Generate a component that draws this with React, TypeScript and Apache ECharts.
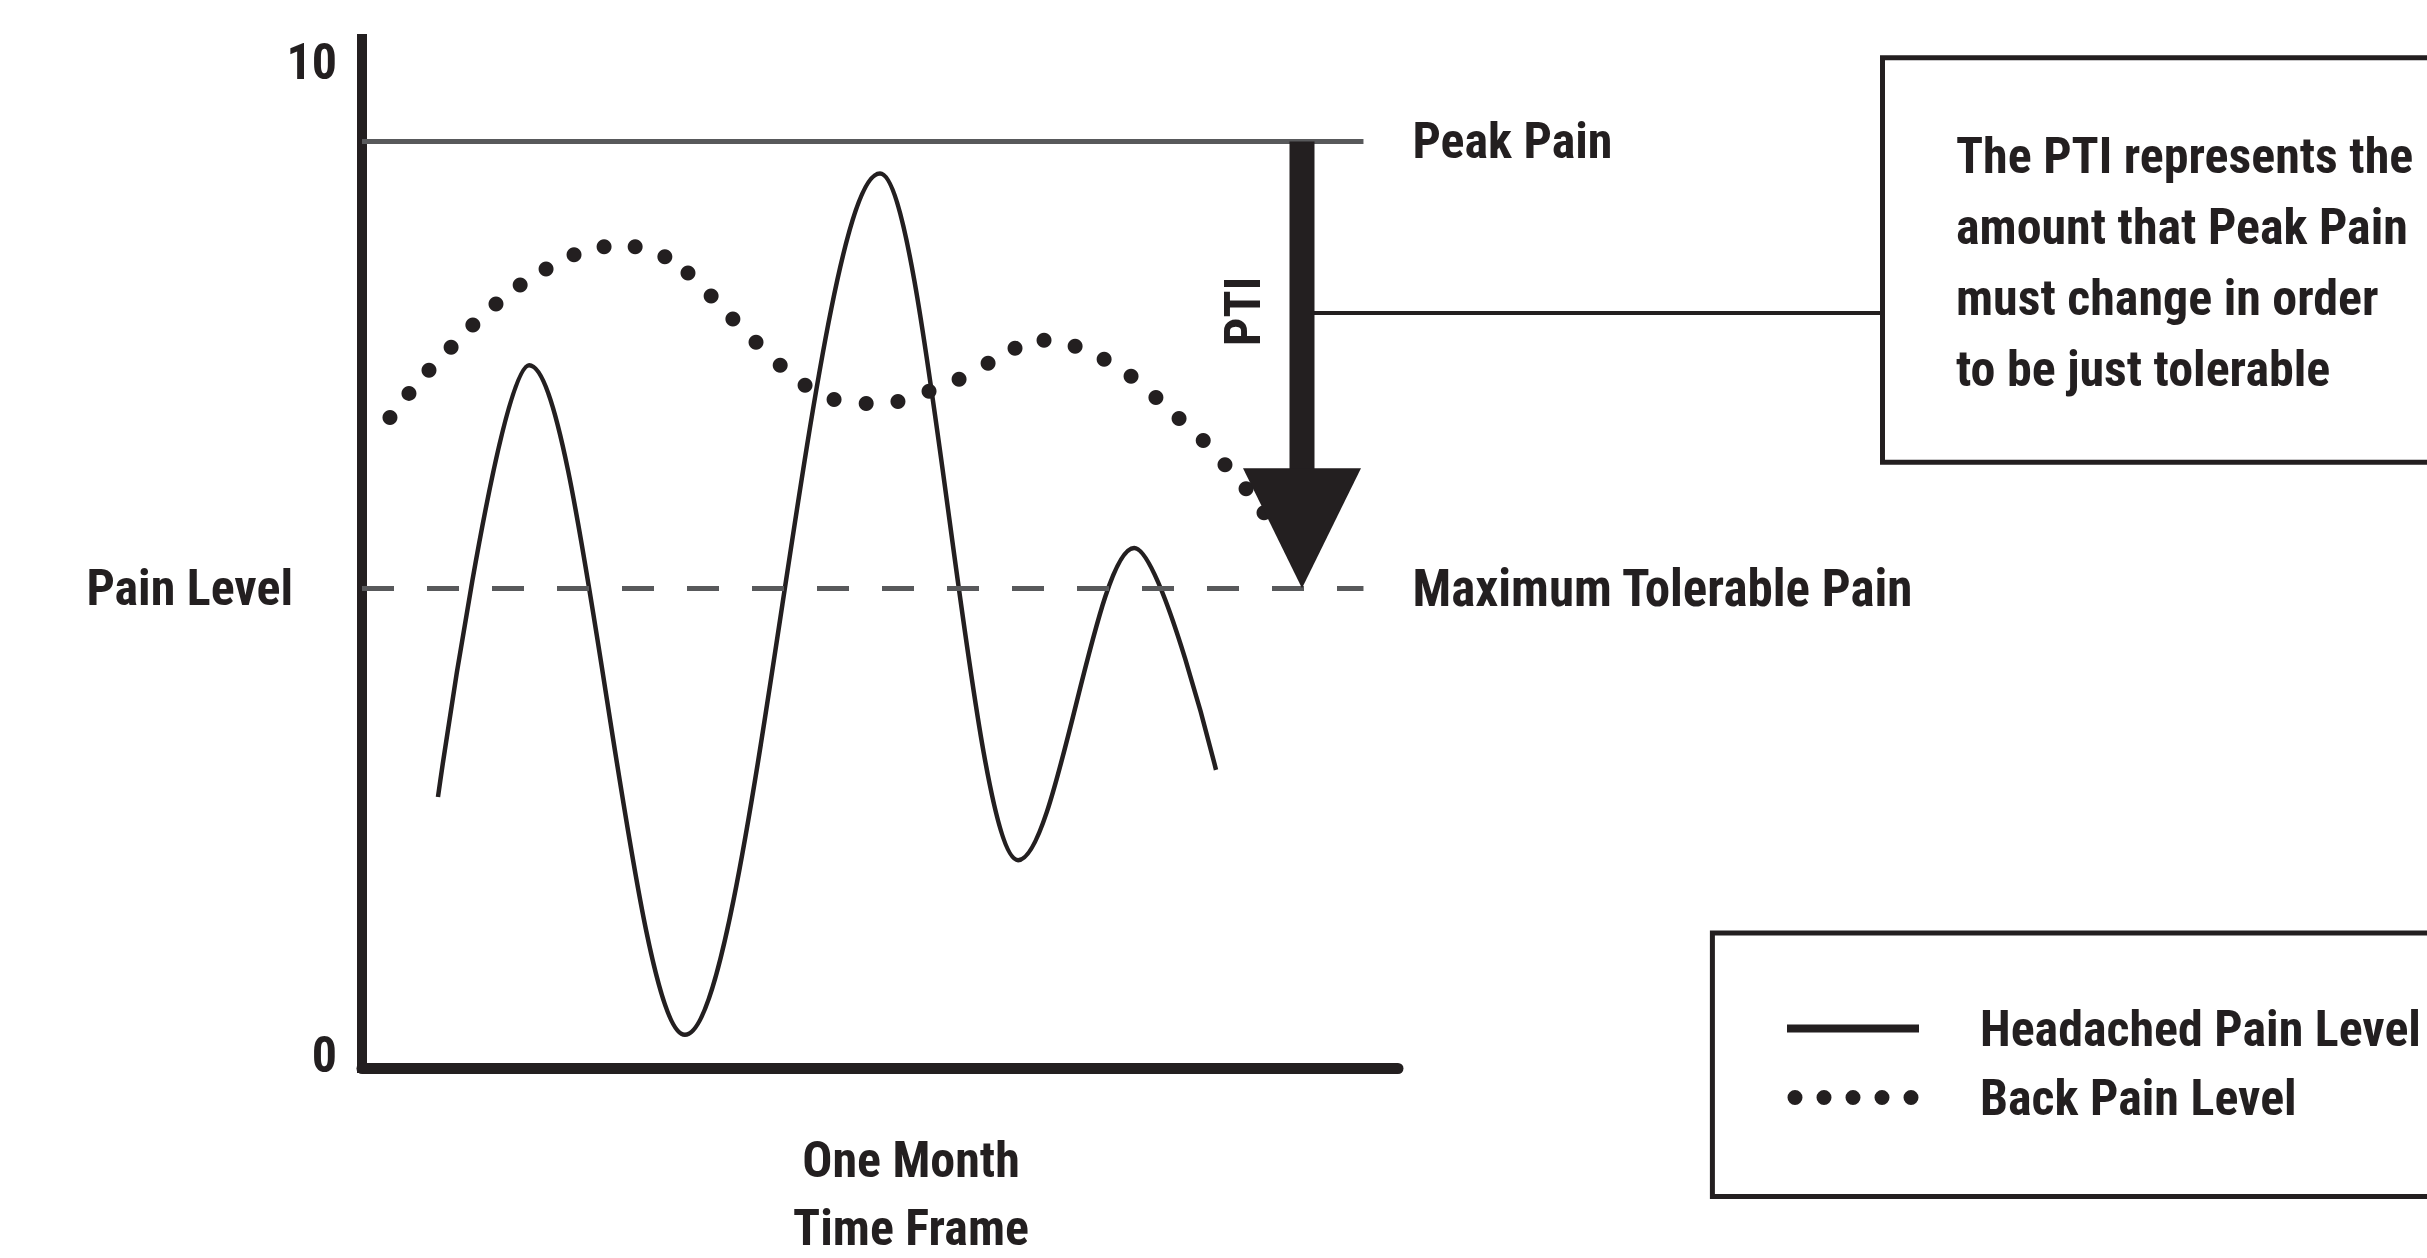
import React, { useEffect, useRef } from 'react';
import * as echarts from 'echarts';

const FONT = "'Roboto Condensed', 'Open Sans Condensed', 'DejaVu Sans Condensed', sans-serif";
const FS = 50;
const INK = '#231f20';
const GREY = '#58595b';

const xRange = [0, 30];
const yRange = [0, 10.25];
const yTickValues = [0, 10];
const seriesNames = ['Headached Pain Level', 'Back Pain Level'];

// Headache pain: start, turning points, end
const headacheX = [2.2, 4.84, 9.35, 15.0, 19.0, 22.36, 24.73];
const headacheY = [2.7, 7.0, 0.33, 8.91, 2.07, 5.18, 2.97];

// Back pain: dot positions
const backX = [0.81, 1.36, 1.94, 2.58, 3.21, 3.88, 4.58, 5.33, 6.14, 7.01, 7.91, 8.77, 9.44, 10.11, 10.74, 11.41, 12.11, 12.83, 13.67, 14.6, 15.52, 16.42, 17.29, 18.13, 18.91, 19.75, 20.65, 21.49, 22.27, 22.99, 23.66, 24.36, 24.99, 25.6, 26.12];
const backY = [6.48, 6.72, 6.95, 7.18, 7.4, 7.61, 7.8, 7.96, 8.1, 8.18, 8.18, 8.08, 7.92, 7.69, 7.46, 7.23, 7.0, 6.8, 6.66, 6.62, 6.64, 6.74, 6.86, 7.02, 7.17, 7.25, 7.19, 7.06, 6.89, 6.68, 6.47, 6.25, 6.01, 5.77, 5.53];

const peakPain = 9.23;
const maxTolerable = 4.78;
const refLineEnd = 29;
const ptiX = 27.22;
const refLabels = ['Peak Pain', 'Maximum Tolerable Pain'];

const xAxisName = 'One Month\nTime Frame';
const yAxisName = 'Pain Level';
const ptiLabel = 'PTI';
const noteLines = [
  'The PTI represents the',
  'amount that Peak Pain',
  'must change in order',
  'to be just tolerable',
];

const zip = (xs: number[], ys: number[]) => xs.map((x, i) => [x, ys[i]]);

const dotsIcon = (() => {
  let d = 'path://';
  for (let k = 0; k < 5; k++) {
    const cx = 8 + 29 * k;
    d += `M${cx - 7.5},7.5a7.5,7.5 0 1,0 15,0a7.5,7.5 0 1,0 -15,0Z`;
  }
  return d;
})();

const boldText = { fontSize: FS, fontWeight: 'bold' as const, fontFamily: FONT, color: INK };
const gText = { fill: INK, fontSize: FS, fontWeight: 'bold', fontFamily: FONT };

function buildOption(): any {
  return {
    animation: false,
    backgroundColor: '#ffffff',
    textStyle: { fontFamily: FONT },
    grid: { left: 362, top: 39, width: 1036, height: 1029, containLabel: false, outerBoundsMode: 'none' },
    xAxis: {
      type: 'value',
      min: xRange[0],
      max: xRange[1],
      axisLine: { show: true, lineStyle: { color: INK, width: 11 } },
      axisTick: { show: false },
      axisLabel: { show: false },
      splitLine: { show: false },
      name: xAxisName,
      nameLocation: 'middle',
      nameGap: 58,
      nameTextStyle: { ...boldText, lineHeight: 68, padding: [0, 0, 0, 62] },
    },
    yAxis: {
      type: 'value',
      min: yRange[0],
      max: yRange[1],
      axisLine: { show: true, lineStyle: { color: INK, width: 10, cap: 'square' } },
      axisTick: { show: false },
      splitLine: { show: false },
      axisLabel: {
        customValues: yTickValues,
        margin: 25,
        formatter: (v: number) => (v === 0 ? `{zero|${v}}` : `{num|${v}}`),
        rich: {
          zero: { ...boldText, padding: [0, 0, 26, 0] },
          num: { ...boldText, padding: [0, 0, 4, 0] },
        },
      },
    },
    legend: {
      orient: 'vertical',
      left: 1787,
      top: 994,
      padding: 0,
      itemGap: 0,
      itemWidth: 132,
      itemHeight: 15,
      selectedMode: false,
      itemStyle: { borderWidth: 0 },
      textStyle: { ...boldText, lineHeight: 69, padding: [0, 0, 0, 56] },
      data: [
        { name: seriesNames[0], icon: 'path://M0,0H132V8H0Z', itemStyle: { color: INK, borderWidth: 0 } },
        { name: seriesNames[1], icon: dotsIcon, itemStyle: { color: INK, borderWidth: 0 } },
      ],
    },
    graphic: [
      {
        type: 'text',
        x: 293,
        y: 588,
        style: { ...gText, text: yAxisName, align: 'right', verticalAlign: 'middle' },
      },
      {
        type: 'rect',
        shape: { x: 1882.5, y: 57.7, width: 700, height: 404.5 },
        style: { fill: 'none', stroke: INK, lineWidth: 5 },
      },
      {
        type: 'text',
        x: 1956,
        y: 120.5,
        style: { ...gText, text: noteLines.join('\n'), lineHeight: 71, verticalAlign: 'top', align: 'left' },
      },
      {
        type: 'line',
        shape: { x1: 1302, y1: 313, x2: 1882, y2: 313 },
        style: { stroke: INK, lineWidth: 4 },
      },
      {
        type: 'rect',
        shape: { x: 1712.4, y: 933, width: 800, height: 263.5 },
        style: { fill: 'none', stroke: INK, lineWidth: 5 },
      },
    ],
    series: [
      {
        name: seriesNames[0],
        type: 'line',
        data: zip(headacheX, headacheY),
        smooth: 0.33,
        smoothMonotone: 'x',
        showSymbol: false,
        symbol: 'none',
        lineStyle: { color: INK, width: 4.5 },
        itemStyle: { color: INK },
        z: 3,
        markLine: {
          silent: true,
          animation: false,
          symbol: ['none', 'none'],
          label: { show: true, position: 'end', distance: 49, ...boldText },
          data: [
            [
              { coord: [xRange[0], peakPain], lineStyle: { color: GREY, width: 5, type: 'solid' }, label: { formatter: refLabels[0] } },
              { coord: [refLineEnd, peakPain] },
            ],
            [
              { coord: [xRange[0], maxTolerable], lineStyle: { color: GREY, width: 5, type: [32, 33] }, label: { formatter: refLabels[1], fontSize: 51 } },
              { coord: [refLineEnd, maxTolerable] },
            ],
          ],
        },
      },
      {
        name: seriesNames[1],
        type: 'line',
        data: zip(backX, backY),
        showSymbol: true,
        symbol: 'circle',
        symbolSize: 15,
        lineStyle: { width: 0, opacity: 0 },
        itemStyle: { color: INK, borderWidth: 0 },
        z: 3,
      },
      {
        name: ptiLabel,
        type: 'custom',
        silent: true,
        z: 5,
        data: [[ptiX, peakPain, maxTolerable]],
        encode: { x: 0, y: [1, 2] },
        renderItem: (_params: any, api: any) => {
          const top = api.coord([api.value(0), api.value(1)]);
          const tip = api.coord([api.value(0), api.value(2)]);
          const headH = 120;
          const headHalf = 59;
          const shaft = 25;
          return {
            type: 'group',
            children: [
              {
                type: 'rect',
                shape: { x: top[0] - shaft / 2, y: top[1], width: shaft, height: tip[1] - headH - top[1] + 2 },
                style: { fill: INK },
              },
              {
                type: 'polygon',
                shape: {
                  points: [
                    [top[0] - headHalf, tip[1] - headH],
                    [top[0] + headHalf, tip[1] - headH],
                    [top[0], tip[1]],
                  ],
                },
                style: { fill: INK },
              },
              {
                type: 'text',
                x: top[0] - 59,
                y: top[1] + 170,
                rotation: Math.PI / 2,
                style: { ...gText, text: ptiLabel, align: 'center', verticalAlign: 'middle' },
              },
            ],
          };
        },
      },
    ],
  };
}

export default function App() {
  const ref = useRef<HTMLDivElement>(null);
  useEffect(() => {
    if (!ref.current) return;
    const chart = echarts.init(ref.current, null, { renderer: 'svg' });
    chart.setOption(buildOption());
    return () => chart.dispose();
  }, []);
  return (
    <div
      ref={ref}
      style={{ position: 'fixed', left: 0, top: 0, width: 2427, height: 1258, background: '#fff' }}
    />
  );
}
